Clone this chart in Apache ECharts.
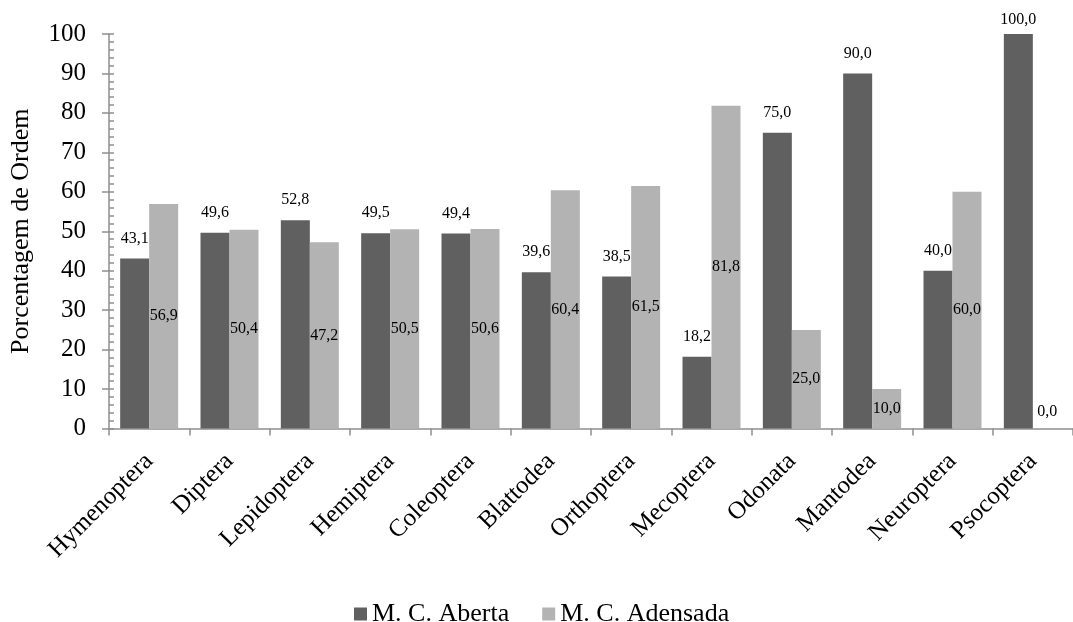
<!DOCTYPE html>
<html>
<head>
<meta charset="utf-8">
<script src="https://cdn.jsdelivr.net/npm/echarts@6/dist/echarts.min.js"></script>
<style>
html,body{margin:0;padding:0;background:#fff;}
#chart{width:1073px;height:622px;}
</style>
</head>
<body>
<div id="chart"></div>
<script>
var categories = ['Hymenoptera','Diptera','Lepidoptera','Hemiptera','Coleoptera','Blattodea','Orthoptera','Mecoptera','Odonata','Mantodea','Neuroptera','Psocoptera'];
var aberta = [43.1, 49.6, 52.8, 49.5, 49.4, 39.6, 38.5, 18.2, 75.0, 90.0, 40.0, 100.0];
var adensada = [56.9, 50.4, 47.2, 50.5, 50.6, 60.4, 61.5, 81.8, 25.0, 10.0, 60.0, 0.0];
var yTicks = [0, 10, 20, 30, 40, 50, 60, 70, 80, 90, 100];

var FONT = "'Liberation Serif', 'Times New Roman', serif";
var AXIS = '#8e8e8e';
function fmt(v){ return v.toFixed(1).replace('.', ','); }

var chart = echarts.init(document.getElementById('chart'));
var darkData = aberta.map(function(v){
  return v >= 100 ? {value: v, label: {distance: 6}} : v;
});
var lightData = adensada.map(function(v){
  return v === 0 ? {value: v, label: {position: 'top', distance: 9}} : v;
});
chart.setOption({
  animation: false,
  textStyle: {fontFamily: FONT, color: '#000'},
  grid: {left: 106, top: 34, width: 970, height: 394.5},
  legend: {
    left: 349, top: 596,
    itemWidth: 13, itemHeight: 13, itemGap: 33,
    icon: 'rect',
    textStyle: {fontFamily: FONT, fontSize: 26, color: '#000'},
    data: ['M. C. Aberta', 'M. C. Adensada']
  },
  xAxis: {
    type: 'category',
    data: categories,
    axisLine: {lineStyle: {color: AXIS, width: 1.5}},
    axisTick: {show: true, length: 7, lineStyle: {color: AXIS, width: 1.5}},
    axisLabel: {rotate: 45, margin: 29, fontFamily: FONT, fontSize: 25, color: '#000', interval: 0},
    splitLine: {show: false}
  },
  yAxis: [{
    type: 'value', min: 0, max: 100, interval: 10,
    name: 'Porcentagem de Ordem', nameLocation: 'middle', nameGap: 75, nameRotate: 90,
    nameTextStyle: {fontFamily: FONT, fontSize: 26, color: '#000'},
    axisLine: {show: true, lineStyle: {color: AXIS, width: 1.5}},
    axisTick: {show: true, length: 7, lineStyle: {color: AXIS, width: 1.5}},
    axisLabel: {margin: 23, fontFamily: FONT, fontSize: 25, color: '#000',
      formatter: function(v){ return yTicks.indexOf(v) >= 0 ? String(v) : ''; }},
    splitLine: {show: false}
  }, {
    type: 'value', min: 0, max: 100, interval: 10, position: 'left',
    axisLine: {show: false},
    axisTick: {show: true, inside: true, length: 5, lineStyle: {color: AXIS, width: 1.5}},
    minorTick: {show: true, splitNumber: 5, length: 5, lineStyle: {color: AXIS, width: 1.5}},
    axisLabel: {show: false},
    splitLine: {show: false}
  }],
  series: [{
    name: 'M. C. Aberta', type: 'bar', data: darkData,
    barWidth: 29, barGap: '0%',
    itemStyle: {color: '#606060'},
    label: {show: true, position: 'top', distance: 12, fontFamily: FONT, fontSize: 16, color: '#000',
      formatter: function(p){ return fmt(p.value); }}
  }, {
    name: 'M. C. Adensada', type: 'bar', data: lightData,
    barWidth: 29, barGap: '0%',
    itemStyle: {color: '#b3b3b3'},
    label: {show: true, position: 'inside', fontFamily: FONT, fontSize: 16, color: '#000',
      formatter: function(p){ return fmt(p.value); }}
  }]
});
</script>
</body>
</html>
